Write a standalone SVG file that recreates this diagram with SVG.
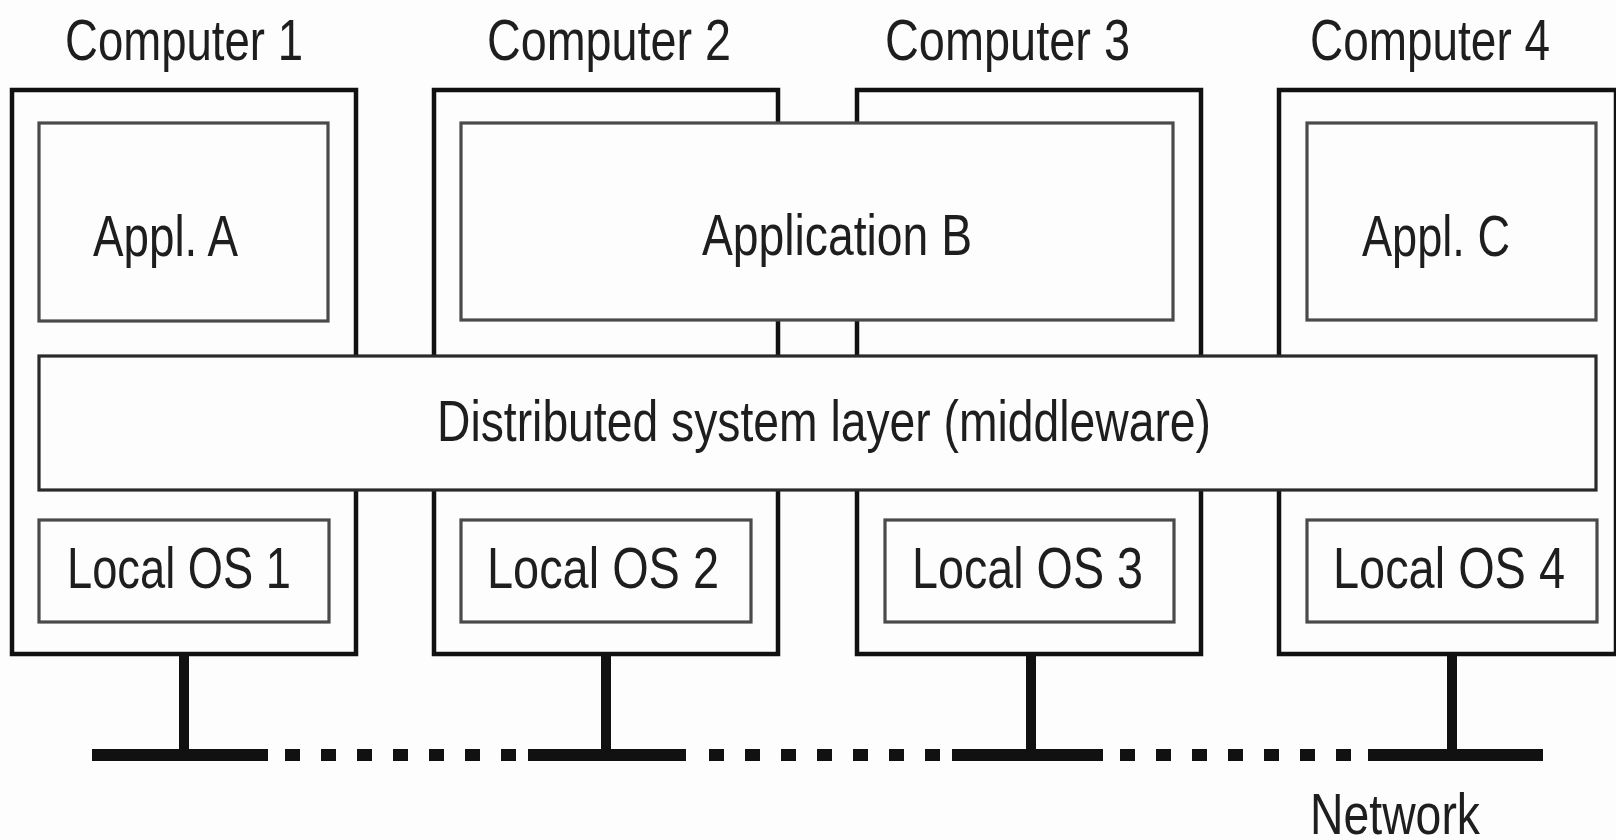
<svg xmlns="http://www.w3.org/2000/svg" width="1616" height="840" viewBox="0 0 1616 840">
<style>
.bg{fill:#fdfdfd}
.comp{fill:#fdfdfd;stroke:#111;stroke-width:4.5}
.inner{fill:#fdfdfd;stroke:#4a4a4a;stroke-width:3.2}
.mw{fill:#fdfdfd;stroke:#2a2a2a;stroke-width:3.2}
.t{font-family:"Liberation Sans",Arial,sans-serif;font-size:58px;fill:#1e1e1e}
.stem{stroke:#111;stroke-width:10;fill:none}
.bus{stroke:#111;stroke-width:12;fill:none}
.dots{stroke:#111;stroke-width:12;fill:none;stroke-dasharray:15 21}
</style>
<rect class="bg" x="0" y="0" width="1616" height="840"/>

<g id="computer1">
<text class="t" x="65" y="60" textLength="238" lengthAdjust="spacingAndGlyphs">Computer 1</text>
<rect class="comp" x="12" y="90" width="344" height="564"/>
</g>
<g id="computer2">
<text class="t" x="487" y="60" textLength="244" lengthAdjust="spacingAndGlyphs">Computer 2</text>
<rect class="comp" x="434" y="90" width="344" height="564"/>
</g>
<g id="computer3">
<text class="t" x="885" y="60" textLength="245" lengthAdjust="spacingAndGlyphs">Computer 3</text>
<rect class="comp" x="857" y="90" width="344" height="564"/>
</g>
<g id="computer4">
<text class="t" x="1310" y="60" textLength="240" lengthAdjust="spacingAndGlyphs">Computer 4</text>
<path class="comp" d="M1616 90 H1279 V654 H1616 Z"/>
</g>

<g id="applA">
<rect class="inner" x="39" y="123" width="289" height="198"/>
<text class="t" x="93" y="256" textLength="145" lengthAdjust="spacingAndGlyphs">Appl. A</text>
</g>
<g id="applB">
<rect class="inner" x="461" y="123" width="712" height="197"/>
<text class="t" x="702" y="255" textLength="270" lengthAdjust="spacingAndGlyphs">Application B</text>
</g>
<g id="applC">
<rect class="inner" x="1307" y="123" width="289" height="197"/>
<text class="t" x="1362" y="256" textLength="148" lengthAdjust="spacingAndGlyphs">Appl. C</text>
</g>

<g id="middleware">
<rect class="mw" x="39" y="356" width="1557" height="134"/>
<text class="t" x="437" y="441" textLength="774" lengthAdjust="spacingAndGlyphs">Distributed system layer (middleware)</text>
</g>

<g id="os1">
<rect class="inner" x="39" y="520" width="290" height="102"/>
<text class="t" x="67" y="588" textLength="224" lengthAdjust="spacingAndGlyphs">Local OS 1</text>
</g>
<g id="os2">
<rect class="inner" x="461" y="520" width="290" height="102"/>
<text class="t" x="487" y="588" textLength="232" lengthAdjust="spacingAndGlyphs">Local OS 2</text>
</g>
<g id="os3">
<rect class="inner" x="885" y="520" width="289" height="102"/>
<text class="t" x="912" y="588" textLength="231" lengthAdjust="spacingAndGlyphs">Local OS 3</text>
</g>
<g id="os4">
<rect class="inner" x="1307" y="520" width="290" height="102"/>
<text class="t" x="1333" y="588" textLength="232" lengthAdjust="spacingAndGlyphs">Local OS 4</text>
</g>

<g id="connectors">
<line class="stem" x1="184" y1="654" x2="184" y2="755"/>
<line class="stem" x1="606" y1="654" x2="606" y2="755"/>
<line class="stem" x1="1031" y1="654" x2="1031" y2="755"/>
<line class="stem" x1="1452" y1="654" x2="1452" y2="755"/>
<line class="bus" x1="92" y1="755" x2="268" y2="755"/>
<line class="dots" x1="285" y1="755" x2="516" y2="755"/>
<line class="bus" x1="528" y1="755" x2="686" y2="755"/>
<line class="dots" x1="709" y1="755" x2="940" y2="755"/>
<line class="bus" x1="952" y1="755" x2="1103" y2="755"/>
<line class="dots" x1="1120" y1="755" x2="1351" y2="755"/>
<line class="bus" x1="1368" y1="755" x2="1543" y2="755"/>
</g>

<g id="network">
<text class="t" x="1310" y="834" textLength="170" lengthAdjust="spacingAndGlyphs">Network</text>
</g>
</svg>
